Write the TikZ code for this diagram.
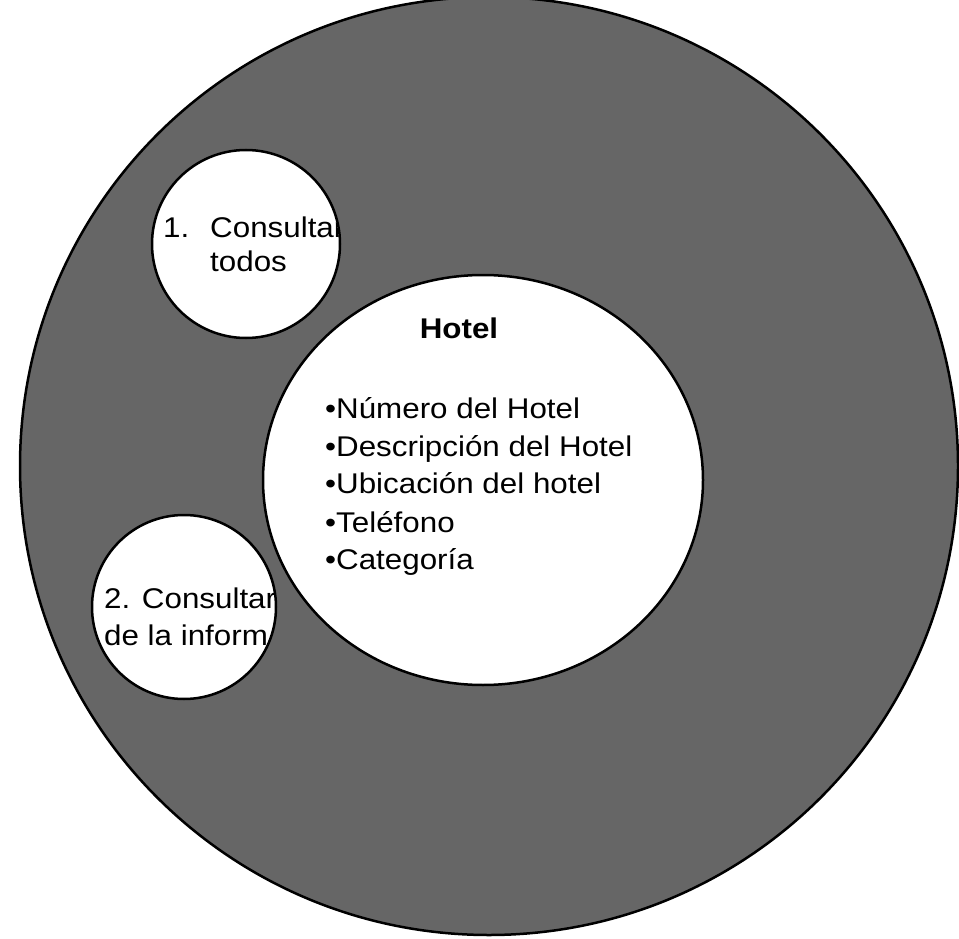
\documentclass[tikz,border=0pt]{standalone}
\usepackage{fontspec}
\setmainfont{Liberation Sans}[FakeStretch=1.1]
\usetikzlibrary{shapes.geometric}
\begin{document}
\begin{tikzpicture}[x=1pt,y=-1pt,
  ring/.style={circle, draw=black, line width=2.5pt, inner sep=0pt, outer sep=0pt},
  hole/.style={ring, fill=white},
  txt/.style={anchor=base west, inner sep=0pt, font=\fontsize{28.5}{34}\selectfont},
]
\useasboundingbox (0,0) rectangle (959,939);

% shaded outer disc
\node[ring, fill=black!60, minimum size=938pt] (outer) at (489,466) {};

% two query bubbles and the central entity
\node[hole, minimum size=188pt] (q1) at (246,244) {};
\node[hole, minimum size=184pt] (q2) at (184,607) {};
\node[ellipse, draw=black, fill=white, line width=2.5pt, inner sep=0pt,
      minimum width=440pt, minimum height=410pt] (hotel) at (483,480) {};

% bubble texts, cut off by the bubble outline
\begin{scope}
  \clip (q1.center) circle [radius=92.5];
  \node[txt] (q1n) at (163,237) {1.};
  \node[txt] (q1a) at (210,237) {Consultar};
  \node[txt] (q1b) at (210,271) {todos};
\end{scope}
\begin{scope}
  \clip (q2.center) circle [radius=90.5];
  \node[txt] (q2a) at (104,608) {2. Consultar};
  \node[txt] (q2b) at (104,645) {de la inform};
\end{scope}

% entity title and attributes
\node[txt, anchor=base, font=\fontsize{28.5}{34}\selectfont\bfseries] (title) at (459,338) {Hotel};
\node[txt] (a1) at (325,418) {•Número del Hotel};
\node[txt] (a2) at (325,456) {•Descripción del Hotel};
\node[txt] (a3) at (325,493) {•Ubicación del hotel};
\node[txt] (a4) at (325,532) {•Teléfono};
\node[txt] (a5) at (325,569) {•Categoría};
\end{tikzpicture}
\end{document}
